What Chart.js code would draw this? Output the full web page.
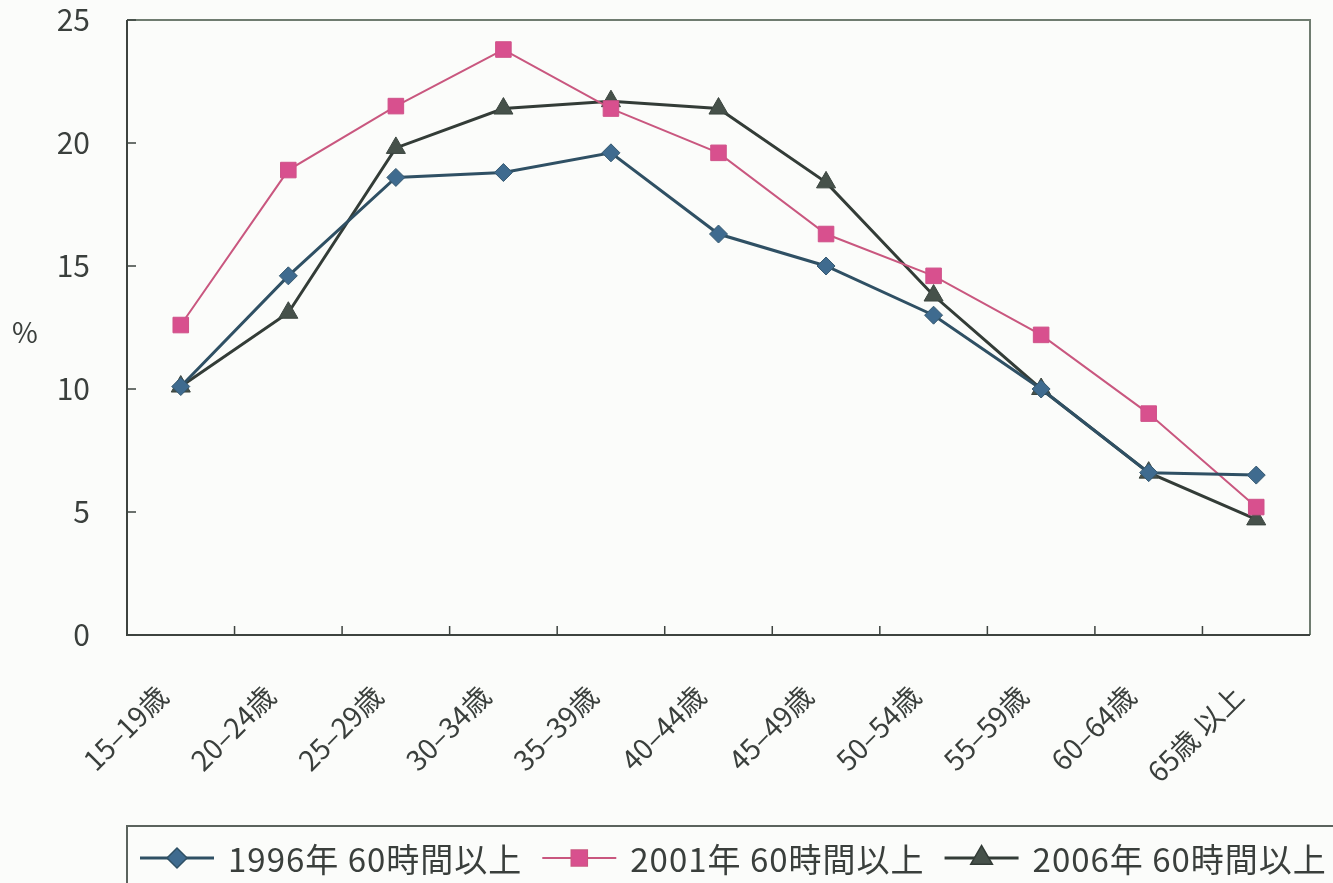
<!DOCTYPE html>
<html>
<head>
<meta charset="utf-8">
<script src="https://cdn.jsdelivr.net/npm/chart.js@4"></script>
<style>
  html, body { margin: 0; padding: 0; background: #fbfcfa; }
  #wrap { width: 1333px; height: 883px; position: relative; }
</style>
</head>
<body>
<div id="wrap"><canvas id="hours-chart"></canvas></div>
<script>
//
// Long working hours by age group
//

var ageGroups = ['15–19歳', '20–24歳', '25–29歳', '30–34歳', '35–39歳', '40–44歳', '45–49歳', '50–54歳', '55–59歳', '60–64歳', '65歳 以上'];
var share1996 = [10.1, 14.6, 18.6, 18.8, 19.6, 16.3, 15.0, 13.0, 10.0, 6.6, 6.5];
var share2001 = [12.6, 18.9, 21.5, 23.8, 21.4, 19.6, 16.3, 14.6, 12.2, 9.0, 5.2];
var share2006 = [10.1, 13.1, 19.8, 21.4, 21.7, 21.4, 18.4, 13.8, 10.0, 6.6, 4.7];
var seriesNames = ['1996年 60時間以上', '2001年 60時間以上', '2006年 60時間以上'];
var yTicks = [0, 5, 10, 15, 20, 25];

var FONT = '"Noto Sans CJK JP", sans-serif';
var TEXT = '#3a3f3c';

// inner ticks, frame, "%" and boxed legend
var decorations = {
	id: 'decorations',
	afterDraw: function(chart) {
		var ctx = chart.ctx;
		var area = chart.chartArea;
		var x = chart.scales.x, y = chart.scales.y;
		ctx.save();

		// frame (top / right)
		ctx.strokeStyle = '#6f7c70';
		ctx.lineWidth = 2;
		ctx.beginPath();
		ctx.moveTo(area.left, area.top);
		ctx.lineTo(area.right, area.top);
		ctx.lineTo(area.right, area.bottom);
		ctx.stroke();

		// axes
		ctx.strokeStyle = '#3d433f';
		ctx.beginPath();
		ctx.moveTo(area.left, area.top);
		ctx.lineTo(area.left, area.bottom);
		ctx.lineTo(area.right, area.bottom);
		ctx.stroke();

		// inner ticks
		ctx.lineWidth = 1.5;
		ctx.beginPath();
		yTicks.forEach(function(v) {
			var py = y.getPixelForValue(v);
			ctx.moveTo(area.left, py);
			ctx.lineTo(area.left + 9, py);
		});
		for (var i = 1; i < ageGroups.length; i++) {
			var px = (x.getPixelForValue(i - 1) + x.getPixelForValue(i)) / 2;
			ctx.moveTo(px, area.bottom);
			ctx.lineTo(px, area.bottom - 9);
		}
		ctx.stroke();

		// "%" label
		ctx.fillStyle = TEXT;
		ctx.font = '28px ' + FONT;
		ctx.textAlign = 'center';
		ctx.textBaseline = 'middle';
		ctx.fillText('%', 25, 332);

		// legend box
		ctx.strokeStyle = '#5b635d';
		ctx.lineWidth = 2;
		ctx.strokeRect(127, 826, 1300, 80);

		var sx = 140;
		var ly = 858;
		ctx.font = '33px ' + FONT;
		ctx.letterSpacing = '1px';
		chart.data.datasets.forEach(function(ds) {
			ctx.strokeStyle = ds.borderColor;
			ctx.lineWidth = ds.borderWidth;
			ctx.beginPath();
			ctx.moveTo(sx, ly);
			ctx.lineTo(sx + 74, ly);
			ctx.stroke();
			Chart.helpers.drawPoint(ctx, {
				pointStyle: ds.pointStyle,
				radius: ds.pointRadius,
				borderWidth: 1
			}, sx + 37, ly);
			ctx.fillStyle = ds.pointBackgroundColor;
			ctx.fill();
			ctx.fillStyle = TEXT;
			ctx.textAlign = 'left';
			ctx.fillText(ds.label, sx + 88, ly + 1);
			sx += 88 + ctx.measureText(ds.label).width + 20;
		});

		ctx.restore();
	}
};

new Chart(document.getElementById('hours-chart'), {
	type: 'line',
	data: {
		labels: ageGroups,
		datasets: [{
			label: seriesNames[0],
			data: share1996,
			borderColor: '#2f5064',
			borderWidth: 3,
			pointStyle: 'rectRot',
			pointRadius: 9,
			pointBackgroundColor: '#3f6b8f',
			pointBorderColor: '#35586f',
			pointBorderWidth: 1
		}, {
			label: seriesNames[1],
			data: share2001,
			borderColor: '#c9577f',
			borderWidth: 2,
			pointStyle: 'rect',
			pointRadius: 11,
			pointBackgroundColor: '#d8508e',
			pointBorderColor: '#cf5289',
			pointBorderWidth: 1
		}, {
			label: seriesNames[2],
			data: share2006,
			borderColor: '#333c37',
			borderWidth: 3,
			pointStyle: 'triangle',
			pointRadius: 11,
			pointBackgroundColor: '#46514a',
			pointBorderColor: '#3b453f',
			pointBorderWidth: 1
		}]
	},
	options: {
		responsive: true,
		maintainAspectRatio: false,
		animation: false,
		layout: { padding: { top: 20, right: 23, left: 0, bottom: 0 } },
		plugins: {
			legend: { display: false },
			tooltip: { enabled: false }
		},
		elements: { line: { tension: 0 } },
		scales: {
			x: {
				offset: true,
				border: { display: false },
				grid: { display: false },
				ticks: {
					minRotation: 45,
					maxRotation: 45,
					padding: 36,
					labelOffset: -18,
					color: TEXT,
					font: { size: 28, family: FONT }
				},
				afterFit: function(scale) {
					scale.height = 248;
					scale.paddingLeft = 0;
					scale.paddingRight = 0;
				}
			},
			y: {
				min: 0,
				max: 25,
				border: { display: false },
				grid: { display: false },
				ticks: {
					stepSize: 5,
					padding: 29,
					color: TEXT,
					font: { size: 30, family: FONT }
				},
				afterFit: function(scale) {
					scale.width = 127;
					scale.paddingTop = 0;
					scale.paddingBottom = 0;
				}
			}
		}
	},
	plugins: [decorations]
});
</script>
</body>
</html>
